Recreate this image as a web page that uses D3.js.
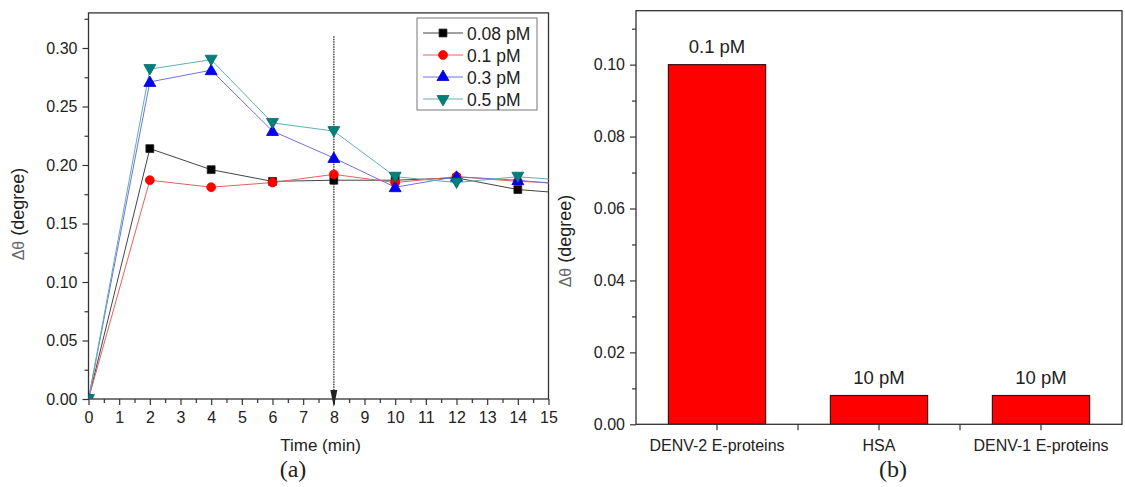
<!DOCTYPE html>
<html>
<head>
<meta charset="utf-8">
<script src="https://cdn.jsdelivr.net/npm/d3@7"></script>
<style>
  body { margin: 0; background: #fff; }
  text { font-family: "Liberation Sans", Arial, sans-serif; fill: #222; }
</style>
</head>
<body>
<svg id="chart" width="1125" height="487"></svg>
<script>
// panel (a): time course
const times = [0, 2, 4, 6, 8, 10, 12, 14, 16];
const seriesNames = ["0.08 pM", "0.1 pM", "0.3 pM", "0.5 pM"];
const s008 = [0, 0.214, 0.196, 0.186, 0.187, 0.187, 0.189, 0.179, 0.175];
const s01  = [0, 0.187, 0.181, 0.185, 0.192, 0.185, 0.190, 0.186, 0.184];
const s03  = [0, 0.271, 0.281, 0.229, 0.206, 0.181, 0.190, 0.187, 0.182];
const s05  = [0, 0.282, 0.290, 0.236, 0.229, 0.190, 0.185, 0.190, 0.186];
const xTicksA = [0, 1, 2, 3, 4, 5, 6, 7, 8, 9, 10, 11, 12, 13, 14, 15];
const yTicksA = [0, 0.05, 0.10, 0.15, 0.20, 0.25, 0.30];
const markerTime = 8;

// panel (b): selectivity
const categories = ["DENV-2 E-proteins", "HSA", "DENV-1 E-proteins"];
const barValues = [0.100, 0.008, 0.008];
const barLabels = ["0.1 pM", "10 pM", "10 pM"];
const yTicksB = [0, 0.02, 0.04, 0.06, 0.08, 0.10];

const svg = d3.select("#chart");
const axisColor = "#333";

function styleAxis(g) {
  g.select(".domain").remove();
  g.selectAll(".tick line").attr("stroke", axisColor).attr("stroke-width", 1.2);
  g.selectAll(".tick text").style("font-size", "16px").attr("fill", "#333");
}

// ---------- panel (a) ----------
const A = { left: 88.5, right: 548.5, top: 12.9, bottom: 399 };
const xA = d3.scaleLinear().domain([0, 15]).range([A.left, A.right]);
const yA = d3.scaleLinear().domain([0, 0.33]).range([A.bottom, A.top]);

svg.append("defs").append("clipPath").attr("id", "clipA")
  .append("rect")
  .attr("x", A.left).attr("y", A.top)
  .attr("width", A.right - A.left).attr("height", A.bottom - A.top);

// minor ticks
svg.append("g").attr("transform", `translate(0,${A.bottom})`)
  .call(d3.axisBottom(xA).tickValues(d3.range(0.5, 15, 1)).tickSize(4).tickFormat(""))
  .call(styleAxis);
svg.append("g").attr("transform", `translate(${A.left},0)`)
  .call(d3.axisLeft(yA).tickValues([0.025, 0.075, 0.125, 0.175, 0.225, 0.275, 0.325]).tickSize(4).tickFormat(""))
  .call(styleAxis);
// major ticks
svg.append("g").attr("transform", `translate(0,${A.bottom})`)
  .call(d3.axisBottom(xA).tickValues(xTicksA).tickSize(6).tickPadding(7).tickFormat(d3.format("d")))
  .call(styleAxis);
svg.append("g").attr("transform", `translate(${A.left},0)`)
  .call(d3.axisLeft(yA).tickValues(yTicksA).tickSize(6).tickPadding(5).tickFormat(d3.format(".2f")))
  .call(styleAxis);

// frame
svg.append("rect")
  .attr("x", A.left).attr("y", A.top)
  .attr("width", A.right - A.left).attr("height", A.bottom - A.top)
  .attr("fill", "none").attr("stroke", axisColor).attr("stroke-width", 1.3);

// dotted marker line at t = 8 with arrow
svg.append("line")
  .attr("x1", xA(markerTime)).attr("x2", xA(markerTime))
  .attr("y1", yA(0.31)).attr("y2", A.bottom - 8)
  .attr("stroke", "#555").attr("stroke-width", 1.6).attr("stroke-dasharray", "1.5,1");
svg.append("path")
  .attr("d", `M${xA(markerTime) - 3.5},${A.bottom - 9} L${xA(markerTime) + 3.5},${A.bottom - 9} L${xA(markerTime)},${A.bottom + 8} Z`)
  .attr("fill", "#222");

const series = [
  { name: seriesNames[0], values: s008, line: "#444", fill: "#000", stroke: "#222", sym: d3.symbolSquare, size: 62, rot: 0 },
  { name: seriesNames[1], values: s01,  line: "#e46060", fill: "#ff0000", stroke: "#ff0000", sym: d3.symbolCircle, size: 62, rot: 0 },
  { name: seriesNames[2], values: s03,  line: "#7070e0", fill: "#0000ff", stroke: "#0000cc", sym: d3.symbolTriangle, size: 62, rot: 0 },
  { name: seriesNames[3], values: s05,  line: "#5fb0ac", fill: "#00807a", stroke: "#006a66", sym: d3.symbolTriangle, size: 62, rot: 180 }
];

const lineA = d3.line().x(d => xA(d[0])).y(d => yA(d[1]));
const plotA = svg.append("g").attr("clip-path", "url(#clipA)");

series.forEach(s => {
  const pts = times.map((t, i) => [t, s.values[i]]);
  plotA.append("path").datum(pts)
    .attr("d", lineA)
    .attr("fill", "none").attr("stroke", s.line).attr("stroke-width", 1);
});
series.forEach(s => {
  const pts = times.map((t, i) => [t, s.values[i]]);
  plotA.selectAll(null).data(pts).enter().append("path")
    .attr("d", d3.symbol().type(s.sym).size(s.size))
    .attr("transform", d => `translate(${xA(d[0])},${yA(d[1]) + (s.sym === d3.symbolTriangle ? (s.rot ? -1 : 1) : 0)}) rotate(${s.rot})`)
    .attr("fill", s.fill).attr("stroke", s.stroke).attr("stroke-width", 0.8);
});

// legend
const leg = svg.append("g");
leg.append("rect").attr("x", 417).attr("y", 18).attr("width", 120).attr("height", 92)
  .attr("fill", "#fff").attr("stroke", "#777").attr("stroke-width", 1);
series.forEach((s, i) => {
  const ly = 33 + i * 22;
  leg.append("line").attr("x1", 423).attr("x2", 463).attr("y1", ly).attr("y2", ly)
    .attr("stroke", s.line).attr("stroke-width", 1);
  leg.append("path")
    .attr("d", d3.symbol().type(s.sym).size(s.size))
    .attr("transform", `translate(443,${ly}) rotate(${s.rot})`)
    .attr("fill", s.fill).attr("stroke", s.stroke).attr("stroke-width", 0.8);
  leg.append("text").attr("x", 467).attr("y", ly + 6.5)
    .style("font-size", "17.5px").text(s.name);
});

// axis titles
svg.append("text")
  .attr("x", (A.left + A.right) / 2 + 2).attr("y", 451)
  .attr("text-anchor", "middle").style("font-size", "17px").text("Time (min)");

function yTitle(x, y) {
  const t = svg.append("text")
    .attr("transform", `translate(${x},${y}) rotate(-90)`)
    .attr("text-anchor", "middle").style("font-size", "18px");
  t.append("tspan").attr("fill", "#666").style("font-size", "16px").text("\u0394\u03b8");
  t.append("tspan").text(" (degree)");
}
yTitle(24, 214);

svg.append("text").attr("x", 293).attr("y", 477)
  .attr("text-anchor", "middle")
  .style("font-family", "'Liberation Serif', 'Times New Roman', serif")
  .style("font-size", "24px").attr("fill", "#111").text("(a)");

// ---------- panel (b) ----------
const B = { left: 636, right: 1122, top: 10.7, bottom: 424.3 };
const xB = d3.scaleBand().domain(categories).range([B.left, B.right])
  .paddingInner(0.4).paddingOuter(0.2);
const yB = d3.scaleLinear().domain([0, 0.115]).range([B.bottom, B.top]);

svg.append("g").attr("transform", `translate(${B.left},0)`)
  .call(d3.axisLeft(yB).tickValues([0.01, 0.03, 0.05, 0.07, 0.09, 0.11]).tickSize(4).tickFormat(""))
  .call(styleAxis);
svg.append("g").attr("transform", `translate(${B.left},0)`)
  .call(d3.axisLeft(yB).tickValues(yTicksB).tickSize(6).tickPadding(5).tickFormat(d3.format(".2f")))
  .call(styleAxis);

// category ticks at centres and separators
const step = xB.step();
svg.append("g").selectAll("line")
  .data(categories.map(c => xB(c) + xB.bandwidth() / 2).concat(categories.slice(1).map(c => xB(c) - (step - xB.bandwidth()) / 2)))
  .enter().append("line")
  .attr("x1", d => d).attr("x2", d => d)
  .attr("y1", B.bottom).attr("y2", B.bottom + 6)
  .attr("stroke", axisColor).attr("stroke-width", 1.2);
svg.append("g").selectAll("text").data(categories).enter().append("text")
  .attr("x", d => xB(d) + xB.bandwidth() / 2).attr("y", B.bottom + 27)
  .attr("text-anchor", "middle").style("font-size", "16px").attr("fill", "#333")
  .text(d => d);

// bars
svg.append("g").selectAll("rect").data(categories).enter().append("rect")
  .attr("x", d => xB(d)).attr("width", xB.bandwidth())
  .attr("y", (d, i) => yB(barValues[i]))
  .attr("height", (d, i) => B.bottom - yB(barValues[i]))
  .attr("fill", "#ff0000").attr("stroke", "#3a1010").attr("stroke-width", 1.2);

svg.append("g").selectAll("text").data(categories).enter().append("text")
  .attr("x", d => xB(d) + xB.bandwidth() / 2)
  .attr("y", (d, i) => yB(barValues[i]) - 12)
  .attr("text-anchor", "middle").style("font-size", "18.5px")
  .text((d, i) => barLabels[i]);

svg.append("rect")
  .attr("x", B.left).attr("y", B.top)
  .attr("width", B.right - B.left).attr("height", B.bottom - B.top)
  .attr("fill", "none").attr("stroke", axisColor).attr("stroke-width", 1.3);

yTitle(571, 241);

svg.append("text").attr("x", 893).attr("y", 477)
  .attr("text-anchor", "middle")
  .style("font-family", "'Liberation Serif', 'Times New Roman', serif")
  .style("font-size", "24px").attr("fill", "#111").text("(b)");
</script>
</body>
</html>
